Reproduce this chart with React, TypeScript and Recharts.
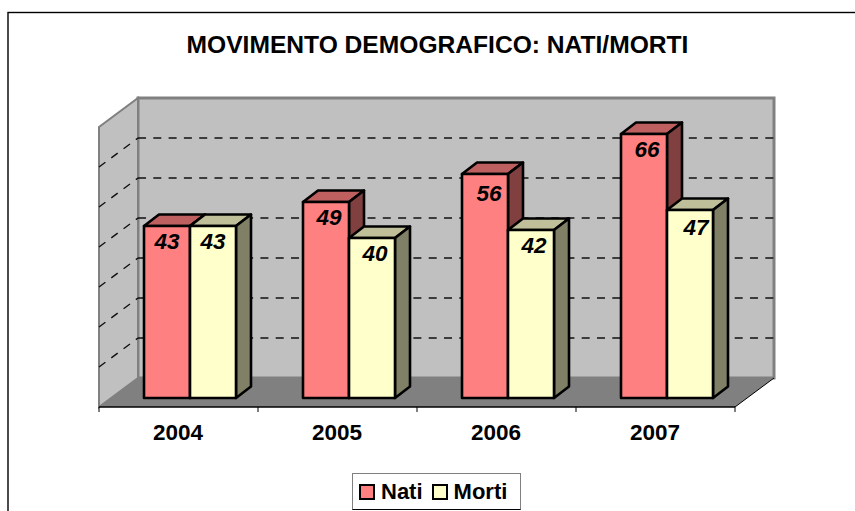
/**
 * Excel-style 3D clustered column chart: births and deaths per year.
 */

import { BarChart, Bar, XAxis, YAxis, Legend, LabelList, usePlotArea } from "recharts";

const years = ["2004", "2005", "2006", "2007"];
const natiValues = [43, 49, 56, 66];
const mortiValues = [43, 40, 42, 47];
const gridValues = [10, 20, 30, 40, 50, 60];

const data = years.map((year, i) => ({ year, Nati: natiValues[i], Morti: mortiValues[i] }));

const WIDTH = 855;
const HEIGHT = 511;
const FONT = "'Liberation Sans', Arial, sans-serif";
const PLOT_LEFT = 99;
const PLOT_RIGHT = 735;
const PLOT_TOP = 118;
const PLOT_BOTTOM = 407;
const Y_MIN = -2.25;
const Y_MAX = 70;
const PX_PER_UNIT = (PLOT_BOTTOM - PLOT_TOP) / (Y_MAX - Y_MIN);
const WALL_DX = 39;
const WALL_DY = 29;
const BAR_SHIFT = 11;
const BAR_DX = 15;
const BAR_DY = 11.5;
const BAND = (PLOT_RIGHT - PLOT_LEFT) / years.length;

const natiColors = { front: "#FF8080", top: "#BF6060", side: "#804040" };
const mortiColors = { front: "#FFFFCC", top: "#BFBF99", side: "#808066" };

// back wall, side wall and floor of the 3D box, drawn behind the bars
function Walls() {
  const plot = usePlotArea();
  if (!plot) return null;
  const left = plot.x;
  const right = plot.x + plot.width;
  const bottom = plot.y + plot.height;
  const backBottom = bottom - WALL_DY;
  const wallHeight = Y_MAX * PX_PER_UNIT;
  return (
    <g>
      <rect
        x={left + WALL_DX}
        y={backBottom - wallHeight}
        width={plot.width}
        height={wallHeight}
        fill="#C0C0C0"
        stroke="#808080"
        strokeWidth={3}
      />
      <polygon
        points={`${left},${bottom - wallHeight} ${left + WALL_DX},${backBottom - wallHeight} ${left + WALL_DX},${backBottom} ${left},${bottom}`}
        fill="#C0C0C0"
        stroke="#808080"
        strokeWidth={2}
      />
      <polygon
        points={`${left},${bottom} ${right},${bottom} ${right + WALL_DX},${backBottom} ${left + WALL_DX},${backBottom}`}
        fill="#808080"
      />
      <line x1={right} y1={bottom} x2={right + WALL_DX} y2={backBottom} stroke="#000" strokeWidth={1} />
      {gridValues.map((v) => {
        const backY = backBottom - v * PX_PER_UNIT;
        const frontY = bottom - v * PX_PER_UNIT;
        return (
          <g key={v} stroke="#111" strokeWidth={1.4} strokeDasharray="8 7.3" fill="none">
            <line x1={left + WALL_DX} y1={backY} x2={right + WALL_DX} y2={backY} />
            <line x1={left} y1={frontY} x2={left + WALL_DX} y2={backY} />
          </g>
        );
      })}
    </g>
  );
}

const Column3D = (colors: typeof natiColors) => (props: any) => {
  const { x, y, width, height } = props;
  const l = x + BAR_SHIFT;
  const r = l + width;
  const b = y + height;
  return (
    <g stroke="#000" strokeWidth={2.6} strokeLinejoin="round">
      <polygon points={`${l},${y} ${l + BAR_DX},${y - BAR_DY} ${r + BAR_DX},${y - BAR_DY} ${r},${y}`} fill={colors.top} />
      <polygon points={`${r},${y} ${r + BAR_DX},${y - BAR_DY} ${r + BAR_DX},${b - BAR_DY} ${r},${b}`} fill={colors.side} />
      <rect x={l} y={y} width={width} height={height} fill={colors.front} />
    </g>
  );
};

const natiLabelDx = [0, 3, 4, 3];
const mortiLabelDx = [0, 3, 3, 6];
const natiLabelDy = [23, 23, 27, 23];
const mortiLabelDy = [23, 23, 23, 25];

const ValueLabel = (dx: number[], dy: number[]) => (props: any) => {
  const { x, y, width, value, index } = props;
  return (
    <text
      x={x + BAR_SHIFT + width / 2 + dx[index]}
      y={y + dy[index]}
      textAnchor="middle"
      fontFamily={FONT}
      fontSize={22.5}
      fontWeight="bold"
      fontStyle="italic"
      fill="#000"
    >
      {value}
    </text>
  );
};

// tick marks sit on the band edges, labels in the band centre
const YearTick = (props: any) => {
  const { x, y, payload, index } = props;
  return (
    <g>
      <line x1={x - BAND / 2} y1={y - 8} x2={x - BAND / 2} y2={y - 3} stroke="#000" />
      {index === years.length - 1 && (
        <line x1={x + BAND / 2} y1={y - 8} x2={x + BAND / 2} y2={y - 3} stroke="#000" />
      )}
      <text x={x - 0.5} y={y + 25} textAnchor="middle" fontFamily={FONT} fontSize={22.5} fontWeight="bold" fill="#000">
        {payload.value}
      </text>
    </g>
  );
};

const swatch = {
  boxSizing: "border-box",
  width: 16,
  height: 16,
  border: "2px solid #000",
} as const;

const LegendBox = () => (
  <div
    style={{
      boxSizing: "border-box",
      width: 169,
      height: 37,
      border: "1px solid #808080",
      borderBottomColor: "#000",
      background: "#fff",
      display: "flex",
      alignItems: "center",
      paddingLeft: 6,
      fontFamily: FONT,
      fontSize: 22,
      fontWeight: "bold",
      color: "#000",
    }}
  >
    <span style={{ ...swatch, background: natiColors.front, marginRight: 6 }} />
    <span style={{ marginRight: 9 }}>Nati</span>
    <span style={{ ...swatch, background: mortiColors.front, marginRight: 6 }} />
    <span>Morti</span>
  </div>
);

export default function App() {
  return (
    <div style={{ position: "absolute", left: 0, top: 0, width: WIDTH, height: HEIGHT, background: "#fff", overflow: "hidden" }}>
      <BarChart
        width={WIDTH}
        height={HEIGHT}
        data={data}
        barSize={46}
        barGap={0}
        margin={{ top: PLOT_TOP, right: WIDTH - PLOT_RIGHT, bottom: HEIGHT - PLOT_BOTTOM - 60, left: PLOT_LEFT }}
      >
        <rect x={8} y={12.5} width={WIDTH + 20} height={HEIGHT + 20} fill="#fff" stroke="#000" strokeWidth={1.4} />
        <text x={437.5} y={53} textAnchor="middle" fontFamily={FONT} fontSize={24.6} fontWeight="bold" fill="#000">
          MOVIMENTO DEMOGRAFICO: NATI/MORTI
        </text>
        <Walls />
        <XAxis dataKey="year" height={60} interval={0} tickLine={false} tick={<YearTick />} axisLine={{ stroke: "#000", strokeWidth: 1.5 }} />
        <YAxis hide type="number" domain={[Y_MIN, Y_MAX]} />
        <Legend
          layout="horizontal"
          verticalAlign="middle"
          content={<LegendBox />}
          wrapperStyle={{ left: 352, top: 473, width: 169, height: 37 }}
        />
        <Bar dataKey="Nati" isAnimationActive={false} shape={Column3D(natiColors)}>
          <LabelList dataKey="Nati" content={ValueLabel(natiLabelDx, natiLabelDy)} />
        </Bar>
        <Bar dataKey="Morti" isAnimationActive={false} shape={Column3D(mortiColors)}>
          <LabelList dataKey="Morti" content={ValueLabel(mortiLabelDx, mortiLabelDy)} />
        </Bar>
      </BarChart>
    </div>
  );
}
